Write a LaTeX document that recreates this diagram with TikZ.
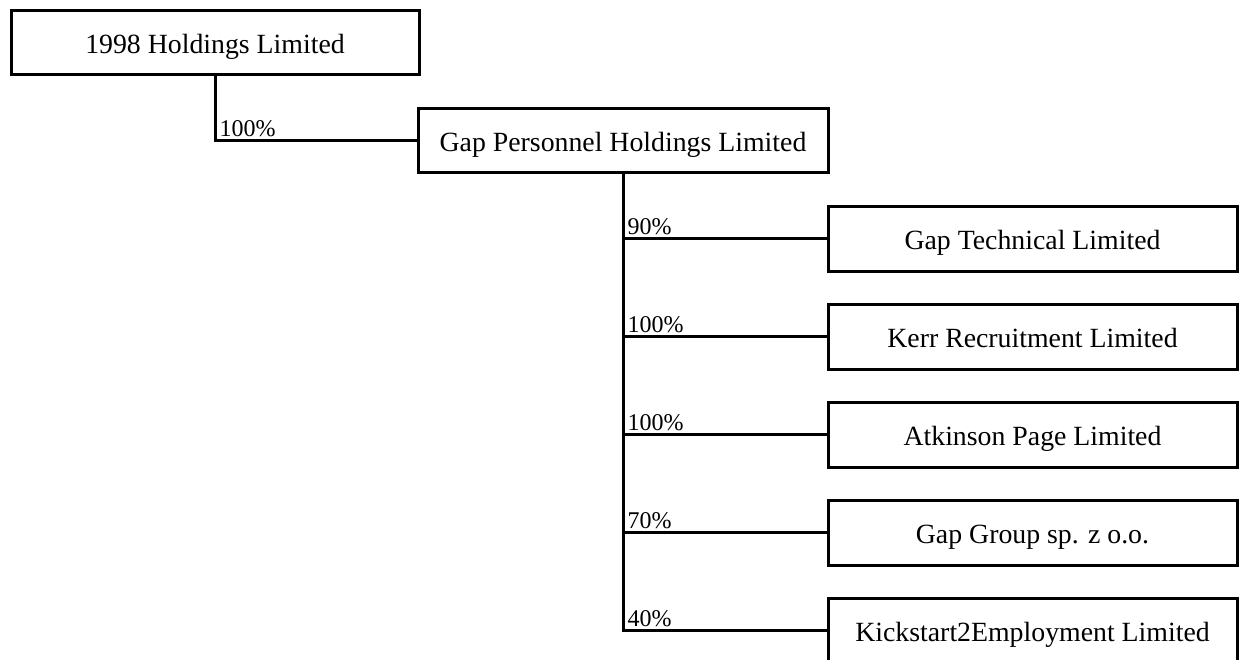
\documentclass[tikz,border=0pt]{standalone}
\usepackage{fontspec}
\setmainfont{Liberation Serif}
\begin{document}
\begin{tikzpicture}[x=1pt,y=-1pt,
  company/.style={draw, line width=3pt, rectangle, minimum height=64pt, inner sep=0pt,
     text height=22pt, text depth=0pt,
     font=\fontsize{27.8}{30}\selectfont},
  link/.style={line width=3pt, line join=miter},
  share/.style={anchor=base west, inner xsep=3pt, inner ysep=0pt, yshift=4pt,
     font=\fontsize{24}{26}\selectfont}]
\useasboundingbox (0,0) rectangle (1240,659);
\clip (0,0) rectangle (1240,659);
\node[company, minimum width=408pt] (top) at (215,42) {1998 Holdings Limited};
\node[company, minimum width=410pt] (gph) at (623,140) {Gap Personnel Holdings Limited};
\node[company, minimum width=409pt, minimum height=65pt] (c1) at (1032.5,238.5) {Gap Technical Limited};
\node[company, minimum width=409pt, minimum height=65pt] (c2) at (1032.5,336.5) {Kerr Recruitment Limited};
\node[company, minimum width=409pt, minimum height=65pt] (c3) at (1032.5,434.5) {Atkinson Page Limited};
\node[company, minimum width=409pt, minimum height=65pt] (c4) at (1032.5,532.5) {Gap Group sp. z o.o.};
\node[company, minimum width=409pt, minimum height=65pt] (c5) at (1032.5,630.5) {Kickstart2Employment Limited};
\draw[link] (top.south) |- node[pos=0.5, share] {100\%} (gph.west);
\draw[link] (gph.south) |- node[pos=0.5, share] {90\%} (c1.west);
\draw[link] (gph.south) |- node[pos=0.5, share] {100\%} (c2.west);
\draw[link] (gph.south) |- node[pos=0.5, share] {100\%} (c3.west);
\draw[link] (gph.south) |- node[pos=0.5, share] {70\%} (c4.west);
\draw[link] (gph.south) |- node[pos=0.5, share] {40\%} (c5.west);
\end{tikzpicture}
\end{document}
